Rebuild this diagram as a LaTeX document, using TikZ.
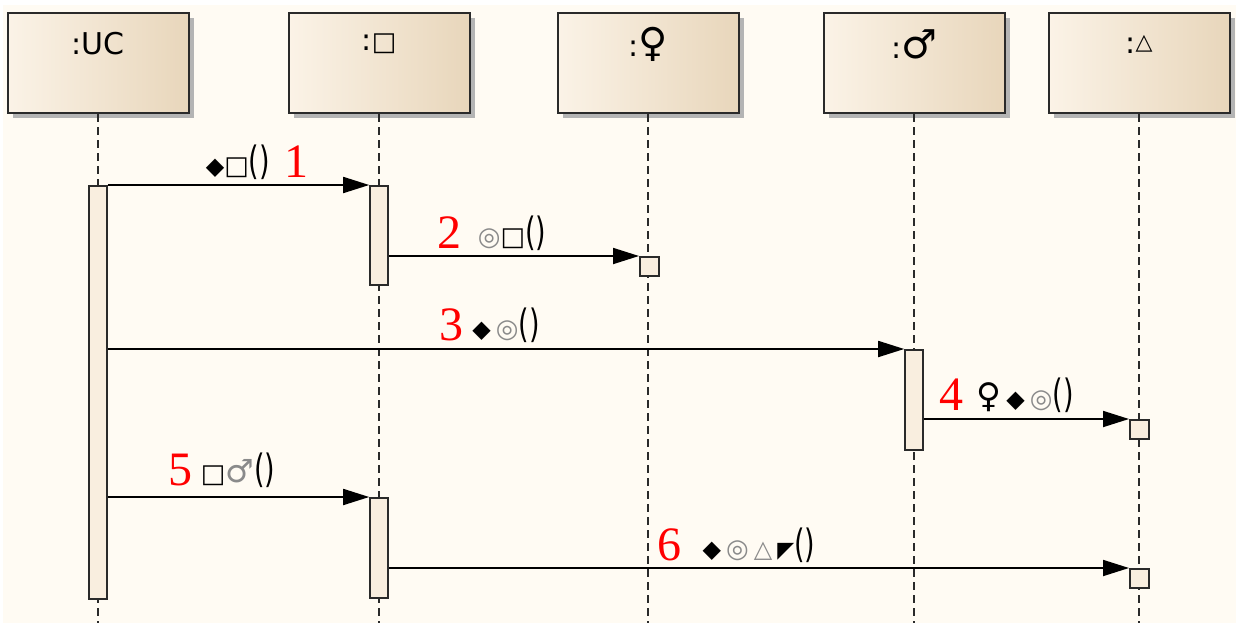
\documentclass[tikz,border=0pt]{standalone}
\usepackage{fontspec}
\usepackage{graphicx}
\setmainfont{DejaVu Sans}
\newfontfamily\numfont{Liberation Serif}
\usetikzlibrary{arrows.meta,positioning,shadows}
\definecolor{Paper}{HTML}{FFFBF3}
\definecolor{BoxLeft}{HTML}{FBF3E7}
\definecolor{BoxRight}{HTML}{E8D6BB}
\definecolor{BarFill}{HTML}{F9EEDF}
\definecolor{Ink}{HTML}{2A2A2A}
\definecolor{Shade}{HTML}{B4B4B4}
\definecolor{Soft}{HTML}{8A8A8A}
\tikzset{
  headbox/.style={draw=Ink,line width=1pt,left color=BoxLeft,right color=BoxRight,minimum width=90.5pt,minimum height=50pt,inner sep=0pt,drop shadow={shadow xshift=2.5pt,shadow yshift=-2.5pt,fill=Shade,opacity=1}},
  headtxt/.style={font=\fontsize{15}{15}\selectfont,text=black,inner sep=0pt},
  lifeline/.style={draw=Ink,line width=0.8pt,dash pattern=on 4pt off 2.5pt},
  actbar/.style={draw=Ink,line width=0.8pt,fill=BarFill,minimum width=9pt,inner sep=0pt,anchor=north},
  endbox/.style={draw=Ink,line width=0.8pt,fill=BarFill,minimum width=9.5pt,minimum height=9.5pt,inner sep=0pt,anchor=north west},
  msg/.style={-{Triangle[length=13pt,width=8pt]},draw=black,line width=0.9pt},
  msgtxt/.style={font=\fontsize{15}{15}\selectfont,text=black,inner sep=1pt},
  stepnum/.style={font=\numfont\fontsize{24}{24}\selectfont,text=red,inner sep=1pt}
}
\newcommand{\dia}{{\fontsize{12}{12}\selectfont ◆}}
\newcommand{\sqr}{{\fontsize{13}{13}\selectfont □}}
\newcommand{\bull}{{\color{Soft}\fontsize{13}{13}\selectfont ◎}}
\newcommand{\tri}{{\color{Soft}\fontsize{12}{12}\selectfont △}}
\newcommand{\corner}{{\fontsize{11}{11}\selectfont ◤}}
\newcommand{\prns}{\scalebox{0.9}[1.3]{()}}
\begin{document}
\begin{tikzpicture}[x=0.5pt,y=-0.5pt]
  \useasboundingbox (0,0) rectangle (1239,643);
  \fill[Paper] (3,5) rectangle (1236,623);

  % lifeline heads
  \node[headbox] (uc) at (98,63) {};
  \node[headbox] (sq) at (379,63) {};
  \node[headbox] (fem) at (648,63) {};
  \node[headbox] (mal) at (914,63) {};
  \node[headbox] (tr) at (1139,63) {};
  \node[headtxt] (uctxt) at ([yshift=-16pt]uc.north) {:UC};
  \node[headtxt] (sqtxt) at ([yshift=-16pt]sq.north) {:\sqr};
  \node[headtxt] (femtxt) at ([yshift=-16pt]fem.north) {:{\fontsize{20}{20}\selectfont ♀}};
  \node[headtxt] (maltxt) at ([yshift=-16pt]mal.north) {:{\fontsize{20}{20}\selectfont ♂}};
  \node[headtxt] (trtxt) at ([yshift=-16pt]tr.north) {:\raisebox{2pt}{\fontsize{11}{11}\selectfont △}};

  % lifelines
  \foreach \h in {uc,sq,fem,mal,tr}
    \draw[lifeline] (\h.south) -- (\h.south |- 0,623);

  % activations
  \node[actbar,minimum height=206.5pt] (ucbar) at (98,185) {};
  \node[actbar,minimum height=49.5pt] (sqbar) at (379,185) {};
  \node[actbar,minimum height=50pt] (malbar) at (914,349) {};
  \node[actbar,minimum height=50pt] (sqbarb) at (379,497) {};
  \node[endbox] (fembox) at (639,256) {};
  \node[endbox] (trbox) at (1129,419) {};
  \node[endbox] (trboxb) at (1129,568) {};

  % messages
  \draw[msg] (ucbar.east |- sqbar.north west) -- (sqbar.north west);
  \draw[msg] (sqbar.east |- fembox.north west) -- (fembox.north west);
  \draw[msg] (ucbar.east |- malbar.north west) -- (malbar.north west);
  \draw[msg] (malbar.east |- trbox.north west) -- (trbox.north west);
  \draw[msg] (ucbar.east |- sqbarb.north west) -- (sqbarb.north west);
  \draw[msg] (sqbarb.east |- trboxb.north west) -- (trboxb.north west);

  % labels
  \node[msgtxt] (m1) at (238,162) {\dia\sqr\prns};
  \node[stepnum,right=5pt of m1] (n1) {1};
  \node[msgtxt] (m2) at (512,233) {\bull\sqr\prns};
  \node[stepnum,left=6pt of m2] (n2) {2};
  \node[msgtxt] (m3) at (506,325) {\dia\,\bull\prns};
  \node[stepnum,left=2pt of m3] (n3) {3};
  \node[msgtxt] (m4) at (1025,395) {{\fontsize{17}{17}\selectfont ♀}\,\dia\,\bull\prns};
  \node[stepnum,left=4pt of m4] (n4) {4};
  \node[msgtxt] (m5) at (238,470) {\sqr{\color{Soft}\fontsize{16}{16}\selectfont ♂}\prns};
  \node[stepnum,left=2pt of m5] (n5) {5};
  \node[msgtxt] (m6) at (759,545) {\dia\,\bull\,\tri\,\corner\prns};
  \node[stepnum,left=8pt of m6] (n6) {6};
\end{tikzpicture}
\end{document}
